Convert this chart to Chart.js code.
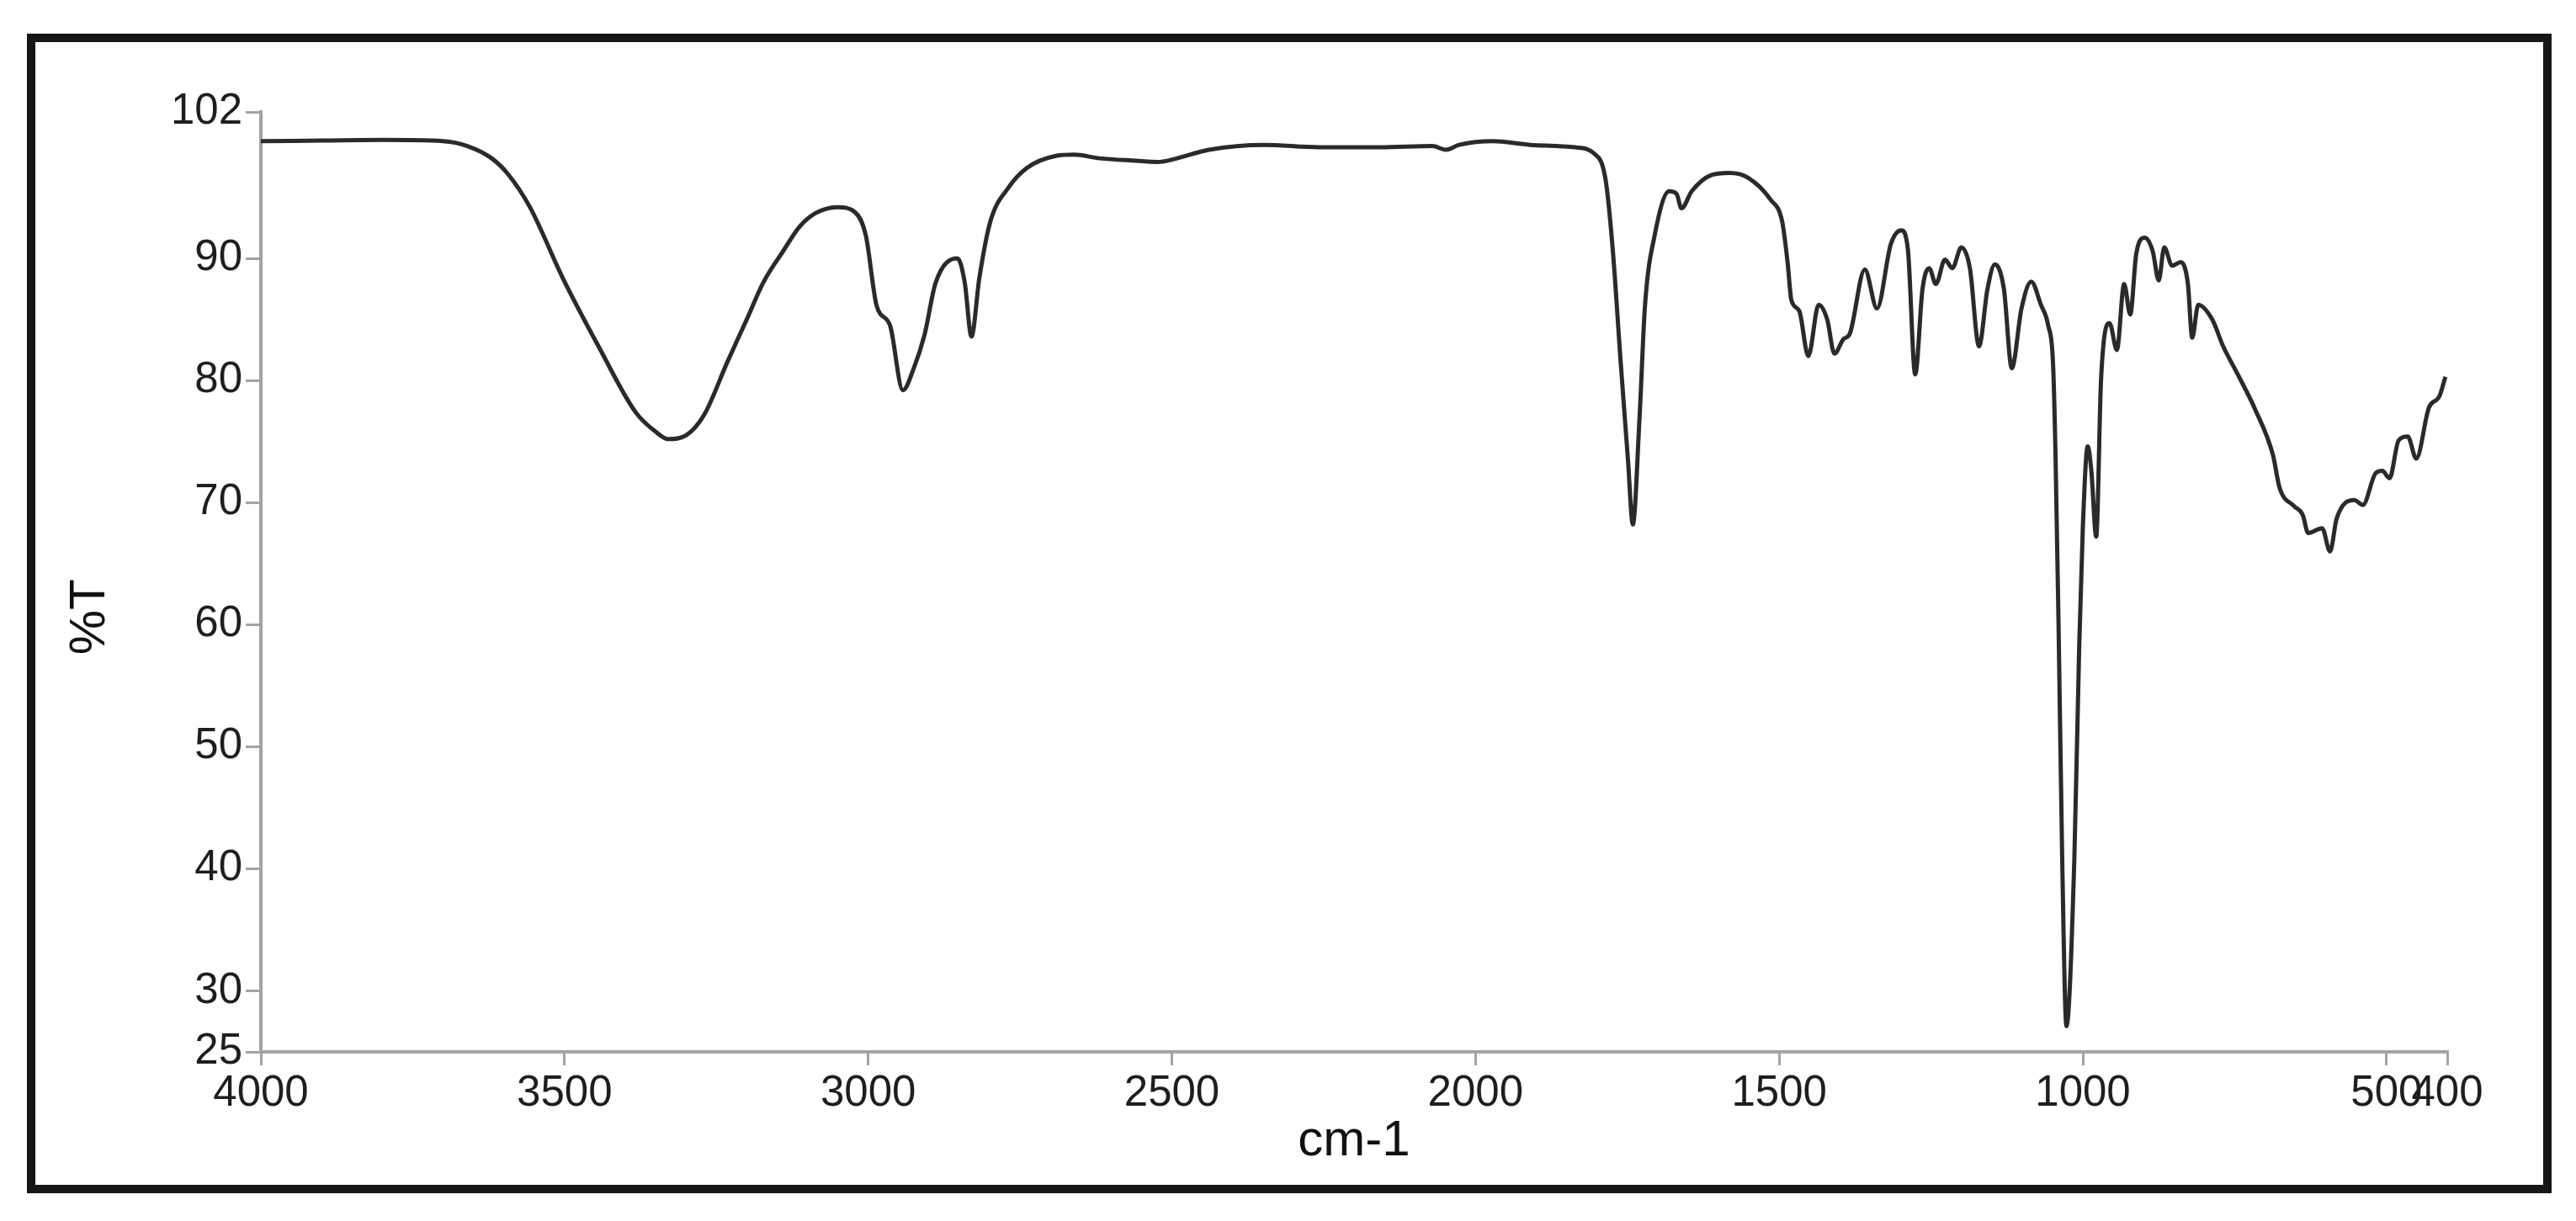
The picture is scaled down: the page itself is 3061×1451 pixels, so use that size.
<!DOCTYPE html>
<html>
<head>
<meta charset="utf-8">
<script src="https://cdn.jsdelivr.net/npm/chart.js@4"></script>
<style>
  html, body { margin: 0; padding: 0; background: #fff; }
  #wrap { position: relative; width: 3061px; height: 1451px; }
  #frame { position: absolute; left: 32px; top: 40px; width: 3000px; height: 1378px; border: 10px solid #161616; box-sizing: border-box; pointer-events: none; }
  canvas { position: absolute; left: 0; top: 0; }
</style>
</head>
<body>
<div id="wrap">
  <canvas id="c" width="3061" height="1451"></canvas>
  <div id="frame"></div>
</div>
<script>
const wavenumbers = [4000,3900,3800,3700,3660,3620,3593,3557,3503,3443,3383,3350,3329,3300,3270,3232,3200,3173,3140,3113,3087,3051,3022,3004,2986,2964,2943,2925,2907,2889,2853,2841,2830,2817,2799,2769,2739,2691,2661,2619,2559,2523,2499,2439,2348,2258,2157,2071,2049,2027,1971,1910,1836,1805,1786,1774,1761,1749,1741,1730,1721,1705,1681,1669,1661,1644,1613,1582,1551,1514,1495,1486,1480,1467,1452,1435,1421,1409,1394,1384,1359,1339,1316,1299,1288,1276,1264,1253,1242,1227,1215,1200,1186,1171,1157,1145,1130,1117,1101,1085,1069,1057,1049,1045,1040,1034,1027,1014,1006,1000,992,986,978,970,956,944,932,922,912,898,885,875,866,853,839,827,820,810,787,769,746,716,687,676,652,638,629,606,593,582,553,539,518,507,495,480,465,451,430,413,403];
const transmittance = [99.6,99.65,99.7,99.6,99.2,98.2,96.9,94.2,88.4,82.7,77.4,75.8,75.2,75.5,77.2,81.5,85.0,88.0,90.6,92.6,93.7,94.2,93.8,91.9,86.1,84.5,79.2,81.0,83.8,88.0,90.0,88.0,83.6,88.4,93.0,95.8,97.4,98.4,98.5,98.2,98.0,97.9,98.1,98.9,99.3,99.1,99.1,99.2,98.9,99.3,99.6,99.3,99.1,98.6,96.5,90.7,81.5,73.5,68.2,76.9,86.1,91.9,95.5,95.3,94.1,95.5,96.8,97.0,96.6,94.8,93.0,89.6,86.6,85.7,82.0,86.2,85.0,82.2,83.4,83.8,89.1,85.9,91.2,92.3,90.7,80.5,87.5,89.2,87.9,89.9,89.2,90.9,89.2,82.8,87.5,89.5,87.5,81.0,85.9,88.1,86.2,84.5,81.3,73.9,60.0,40.8,27.1,40.8,58.2,68.0,74.6,72.6,67.2,80.1,84.7,82.5,87.9,85.4,90.4,91.7,90.6,88.2,90.9,89.4,89.7,87.9,83.5,86.2,85.0,82.8,80.6,77.6,73.9,71.2,69.7,69.0,67.5,67.9,66.0,68.7,70.2,69.8,72.4,72.6,72.0,75.1,75.4,73.6,77.8,78.7,80.3];
const xTicks = [4000,3500,3000,2500,2000,1500,1000,500,400];
const yTicks = [102,90,80,70,60,50,40,30,25];
const xTitle = 'cm-1';
const yTitle = '%T';

const points = wavenumbers.map((w, i) => ({ x: w, y: transmittance[i] }));
const axisGray = '#a3a3a3';
const textColor = '#1e1e1e';
const family = '"Liberation Sans", Arial, sans-serif';

new Chart(document.getElementById('c'), {
  type: 'line',
  data: { datasets: [{ data: points, borderColor: '#2a2a2a', borderWidth: 5, pointRadius: 0, cubicInterpolationMode: 'monotone', fill: false }] },
  options: {
    responsive: false, animation: false, events: [],
    layout: { padding: { left: 60, top: 133, right: 153, bottom: 51 } },
    plugins: { legend: { display: false }, tooltip: { enabled: false } },
    scales: {
      x: {
        type: 'linear', min: 400, max: 4000, reverse: true,
        afterBuildTicks: s => { s.ticks = xTicks.map(v => ({ value: v })); },
        afterFit: s => { s.height = 150; },
        ticks: { autoSkip: false, maxRotation: 0, padding: 3, color: textColor, font: { family, size: 51 }, callback: v => String(v) },
        grid: { drawOnChartArea: false, drawTicks: true, tickLength: 16, color: axisGray, lineWidth: 3 },
        border: { display: true, color: axisGray, width: 4 },
        title: { display: true, text: xTitle, color: '#111', font: { family, size: 60 }, padding: { top: 0, bottom: 8 } }
      },
      y: {
        type: 'linear', min: 25, max: 102,
        afterBuildTicks: s => { s.ticks = yTicks.map(v => ({ value: v })); },
        afterFit: s => { s.width = 250; },
        ticks: { autoSkip: false, padding: 4, color: textColor, font: { family, size: 51 }, callback: v => String(v) },
        grid: { drawOnChartArea: false, drawTicks: true, tickLength: 18, color: axisGray, lineWidth: 3 },
        border: { display: true, color: axisGray, width: 4 },
        title: { display: true, text: yTitle + '     ', color: '#111', font: { family, size: 60 }, padding: { top: 11, bottom: 0 } }
      }
    }
  }
});
</script>
</body>
</html>
